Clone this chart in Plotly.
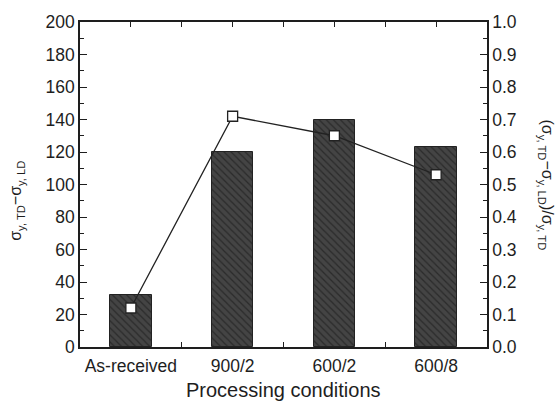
import plotly.graph_objects as go

conditions = ["As-received", "900/2", "600/2", "600/8"]
stress_diff = [32, 120, 140, 123]          # σ_TD − σ_LD (left axis)
anisotropy_ratio = [0.12, 0.71, 0.65, 0.53]  # (σ_TD − σ_LD)/σ_TD (right axis)

xpos = list(range(len(conditions)))
font_family = "Liberation Sans, Arial, sans-serif"
ink = "#1e1e1e"
tick_size = 17.5

fig = go.Figure()

fig.add_trace(go.Bar(
    x=xpos, y=stress_diff, width=0.41,
    marker=dict(
        color="#3c3c3c",
        line=dict(color="#222222", width=1),
        pattern=dict(shape="\\", fgcolor="#111111", bgcolor="#444444",
                     size=5, solidity=0.25),
    ),
    showlegend=False,
))

fig.add_trace(go.Scatter(
    x=xpos, y=anisotropy_ratio, yaxis="y2",
    mode="lines+markers",
    line=dict(color="#222222", width=1.3),
    marker=dict(symbol="square", size=10, color="white",
                line=dict(color="#222222", width=1.3)),
    showlegend=False,
))

# Dummy trace on the top axis so it renders its ticks
fig.add_trace(go.Scatter(x=[None], y=[None], xaxis="x2", showlegend=False,
                         hoverinfo="skip"))

fig.update_layout(
    width=557, height=404,
    margin=dict(l=80, r=70, t=16, b=57),
    paper_bgcolor="white", plot_bgcolor="white",
    font=dict(family=font_family, size=tick_size, color=ink),
    bargap=0,
    xaxis=dict(
        range=[-0.5, 3.5],
        tickvals=xpos, ticktext=conditions, ticks="",
        ticklabelstandoff=2,
        minor=dict(tickvals=[0.5, 1.5, 2.5], ticks="inside", ticklen=5,
                   tickcolor=ink, tickwidth=1),
        showline=True, linecolor=ink, linewidth=1.5, mirror=True,
        showgrid=False, zeroline=False,
        tickfont=dict(size=tick_size),
    ),
    xaxis2=dict(
        overlaying="x", side="top", range=[-0.5, 3.5],
        tickvals=[0, 0.5, 1, 1.5, 2, 2.5, 3], ticks="inside", ticklen=5,
        tickcolor=ink, showticklabels=False, showgrid=False, zeroline=False,
    ),
    yaxis=dict(
        range=[0, 200], tickvals=list(range(0, 201, 20)),
        ticks="inside", ticklen=7, tickcolor=ink, tickwidth=1,
        minor=dict(dtick=10, ticks="inside", ticklen=4, tickcolor=ink),
        showline=True, linecolor=ink, linewidth=1.5,
        showgrid=False, zeroline=False,
        tickfont=dict(size=tick_size),
    ),
    yaxis2=dict(
        overlaying="y", side="right", range=[0, 1],
        tickvals=[round(i * 0.1, 1) for i in range(11)],
        tickformat=".1f",
        ticks="inside", ticklen=7, tickcolor=ink, tickwidth=1,
        minor=dict(dtick=0.05, ticks="inside", ticklen=4, tickcolor=ink),
        showline=True, linecolor=ink, linewidth=1.5,
        showgrid=False, zeroline=False,
        tickfont=dict(size=tick_size),
    ),
)

# Axis titles
fig.add_annotation(
    text="Processing conditions",
    xref="paper", yref="paper", x=0.5, y=0, yshift=-43,
    xanchor="center", yanchor="middle",
    showarrow=False, font=dict(size=20, color=ink),
)
fig.add_annotation(
    text="σ<sub>y, TD</sub>−σ<sub>y, LD</sub>",
    xref="paper", yref="paper", x=0, y=0.45, xshift=-63,
    xanchor="center", yanchor="middle",
    showarrow=False, textangle=-90, font=dict(size=16, color=ink),
)
fig.add_annotation(
    text="(σ<sub>y, TD</sub>−σ<sub>y, LD</sub>)/σ<sub>y, TD</sub>",
    xref="paper", yref="paper", x=1.0, y=0.5, xshift=59,
    xanchor="center", yanchor="middle",
    showarrow=False, textangle=90, font=dict(size=16, color=ink),
)

fig.write_html("out.html")
